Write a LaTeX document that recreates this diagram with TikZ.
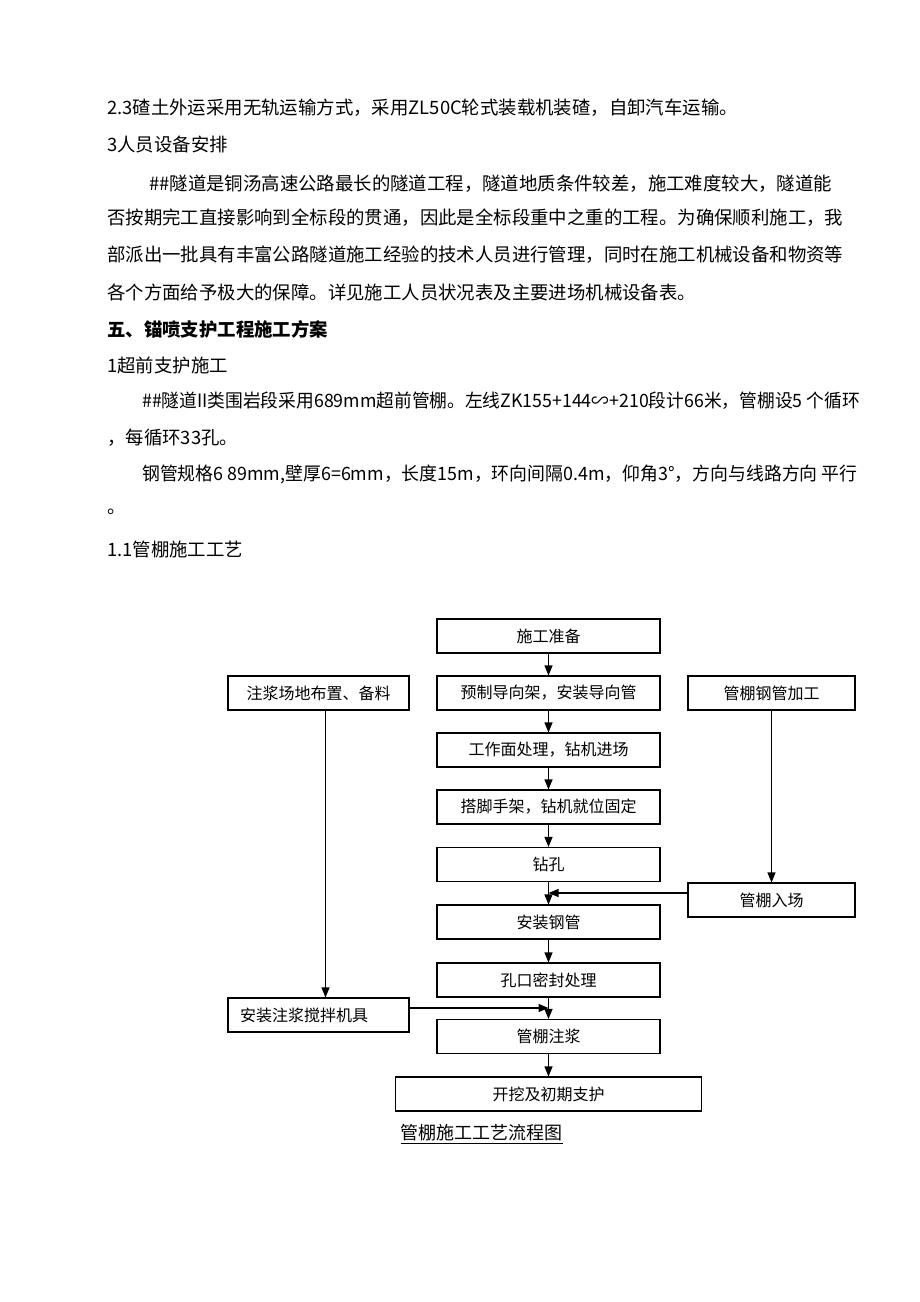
\documentclass[tikz,border=0pt]{standalone}
\usepackage{fontspec}
\setmainfont{Noto Sans CJK SC}
\usetikzlibrary{arrows.meta}
\begin{document}
\begin{tikzpicture}[x=1pt,y=-1pt,
  txt/.style={anchor=west,inner sep=0pt,font=\fontsize{18.4}{22}\selectfont},
  box/.style={draw,line width=1.1pt,inner sep=0pt,minimum height=34,font=\fontsize{16}{19}\selectfont},
  cbox/.style={box,minimum width=223},
  lbox/.style={box,minimum width=181},
  rbox/.style={box,minimum width=167},
  conn/.style={line width=1.1pt,-{Triangle[length=10pt,width=8pt]}},
  plain/.style={line width=1.1pt}]
\useasboundingbox[fill=white] (0,0) rectangle (920,1302);
% body text
\node[txt] (t1) at (107,108) {2.3碴土外运采用无轨运输方式，采用ZL50C轮式装载机装碴，自卸汽车运输。};
\node[txt] (t2) at (107,145) {3人员设备安排};
\node[txt] (t3) at (149,184) {\#\#隧道是铜汤高速公路最长的隧道工程，隧道地质条件较差，施工难度较大，隧道能};
\node[txt] (t4) at (107,218) {否按期完工直接影响到全标段的贯通，因此是全标段重中之重的工程。为确保顺利施工，我};
\node[txt] (t5) at (107,255) {部派出一批具有丰富公路隧道施工经验的技术人员进行管理，同时在施工机械设备和物资等};
\node[txt] (t6) at (107,292) {各个方面给予极大的保障。详见施工人员状况表及主要进场机械设备表。};
\node[txt,font=\fontsize{18.4}{22}\selectfont\bfseries] (t7) at (107,329) {五、锚喷支护工程施工方案};
\node[txt] (t8) at (107,365) {1超前支护施工};
\node[txt] (t9) at (142,401) {\scalebox{0.964}[1]{\#\#隧道II类围岩段采用689mm超前管棚。左线ZK155+144∽+210段计66米，管棚设5 个循环}};
\node[txt] (t10) at (107,438) {，每循环33孔。};
\node[txt] (t11) at (142,474) {\scalebox{0.971}[1]{钢管规格6 89mm,壁厚6=6mm，长度15m，环向间隔0.4m，仰角3°，方向与线路方向 平行}};
\node[txt] (t12) at (107,512) {。};
\node[txt] (t13) at (107,549) {1.1管棚施工工艺};
% flowchart
\node[cbox] (s1) at (548.5,636) {施工准备};
\node[cbox] (s2) at (548.5,693) {预制导向架，安装导向管};
\node[cbox] (s3) at (548.5,750) {工作面处理，钻机进场};
\node[cbox] (s4) at (548.5,807) {搭脚手架，钻机就位固定};
\node[cbox] (s5) at (548.5,864.5) {钻孔};
\node[cbox] (s6) at (548.5,922) {安装钢管};
\node[cbox] (s7) at (548.5,980) {孔口密封处理};
\node[cbox] (s8) at (548.5,1036.5) {管棚注浆};
\node[box,minimum width=306] (s9) at (548.5,1094) {开挖及初期支护};
\node[lbox] (l1) at (318.5,693) {注浆场地布置、备料};
\node[lbox,text width=157,align=left] (l2) at (318.5,1015) {安装注浆搅拌机具};
\node[rbox] (r1) at (771.5,693) {管棚钢管加工};
\node[rbox] (r2) at (771.5,900) {管棚入场};
\node[inner sep=0pt,font=\fontsize{18}{21}\selectfont] (cap) at (481.5,1134) {\underline{管棚施工工艺流程图}};
% connectors
\foreach \a/\b in {s1/s2,s2/s3,s3/s4,s4/s5,s5/s6,s6/s7,s7/s8,s8/s9}
  \draw[conn] (\a.south) -- (\b.north);
\draw[conn] ([xshift=7pt]l1.south) -- ([xshift=7pt]l2.north);
\draw[conn] (r1.south) -- (r2.north);
\coordinate (j1) at (548.5,893);
\coordinate (j2) at (548.5,1008);
\draw[conn] ([yshift=7pt]r2.west) -- (j1);
\draw[conn] ([yshift=7pt]l2.east) -- (j2);
\end{tikzpicture}
\end{document}
